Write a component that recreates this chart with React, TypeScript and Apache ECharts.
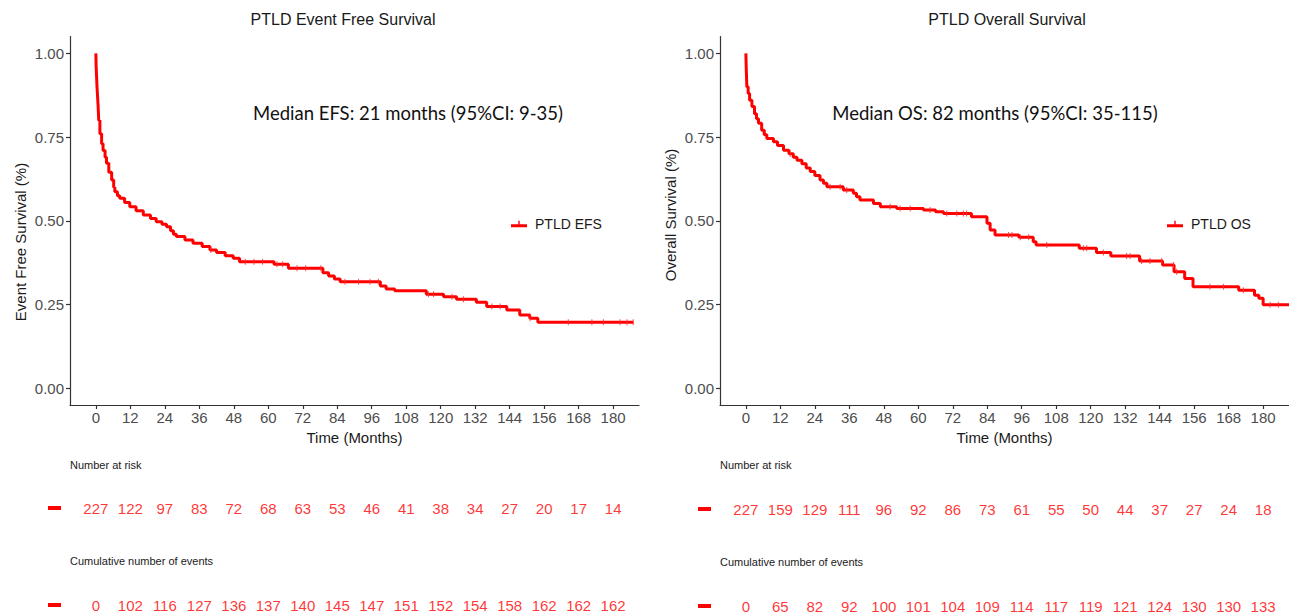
import { useEffect, useRef } from "react";
import * as echarts from "echarts";

// ---------- data ----------
const timeTicks = [0, 12, 24, 36, 48, 60, 72, 84, 96, 108, 120, 132, 144, 156, 168, 180];
const survTicks = [0, 0.25, 0.5, 0.75, 1];

// Kaplan-Meier step points [time (months), survival from this time onward]
const efsCurve: [number, number][] = [
  [0, 1.0], [0.1, 0.96], [0.2, 0.94], [0.4, 0.9], [0.6, 0.87], [0.8, 0.84], [1.0, 0.8],
  [1.4, 0.76], [2.0, 0.73], [2.5, 0.71], [3.2, 0.69], [3.7, 0.672], [4.5, 0.645], [5.5, 0.622],
  [6.2, 0.6], [6.6, 0.587], [7.5, 0.575], [8.3, 0.567], [10, 0.555], [11.8, 0.542], [14, 0.53],
  [16.5, 0.517], [19, 0.507], [21, 0.497], [23, 0.49], [24.6, 0.482], [26, 0.47], [27, 0.46],
  [28, 0.453], [31, 0.443], [33.8, 0.433], [37, 0.423], [39.7, 0.413], [42, 0.405], [45, 0.396],
  [47.8, 0.388], [50, 0.378], [62, 0.37], [67, 0.358], [79, 0.345], [81, 0.335], [83, 0.326],
  [85, 0.318], [99, 0.305], [101, 0.296], [104, 0.291], [115, 0.281], [121, 0.273], [125.5, 0.266],
  [132.4, 0.257], [136, 0.244], [143, 0.234], [147.5, 0.219], [151, 0.209], [153.8, 0.197], [187, 0.197],
];
const osCurve: [number, number][] = [
  [0, 1.0], [0.15, 0.95], [0.35, 0.9], [0.8, 0.88], [1.3, 0.86], [2.1, 0.841], [3, 0.82],
  [3.7, 0.805], [4.4, 0.791], [5.5, 0.77], [6.4, 0.757], [7.3, 0.746], [9.6, 0.736], [11, 0.725],
  [13.1, 0.711], [15, 0.7], [16.5, 0.69], [17.8, 0.681], [19.5, 0.67], [21, 0.658], [22.4, 0.647],
  [24, 0.635], [25.8, 0.622], [27, 0.612], [28.2, 0.602], [33.9, 0.592], [37.4, 0.582], [38.5, 0.572],
  [39.7, 0.562], [44.4, 0.552], [46.8, 0.542], [52.5, 0.537], [61.8, 0.532], [66, 0.527], [68.8, 0.522],
  [78.5, 0.512], [83.9, 0.4925], [85, 0.4725], [86.7, 0.4576], [95, 0.451], [100, 0.4376], [101, 0.428],
  [116, 0.418], [122, 0.405], [127, 0.395], [137, 0.38], [145, 0.368], [149, 0.348], [152.7, 0.328],
  [155.6, 0.303], [171.5, 0.293], [177, 0.278], [178.5, 0.269], [180, 0.249], [189, 0.249],
];
const efsCensorTimes = [40, 52, 55, 58, 63, 65, 70, 73, 78.3, 86.7, 91.4, 95.4, 98.3, 115.7, 117.5, 123.9,
  127.9, 137.8, 140.7, 151.1, 164.4, 172.6, 176.6, 182.4, 184.8, 187];
const osCensorTimes = [15.4, 29.3, 32.8, 35.1, 50.2, 53.7, 57.2, 64.1, 69.9, 73.4, 75.7, 76.8, 91.4, 92.6,
  95.5, 98.4, 104.7, 117.5, 118.6, 124.4, 132.5, 133.7, 137.7, 140.6, 144.7, 148.8, 149.9, 161.5, 166.2,
  173.1, 182.4, 185.3];

const efsAtRisk = [227, 122, 97, 83, 72, 68, 63, 53, 46, 41, 38, 34, 27, 20, 17, 14];
const efsEvents = [0, 102, 116, 127, 136, 137, 140, 145, 147, 151, 152, 154, 158, 162, 162, 162];
const osAtRisk = [227, 159, 129, 111, 96, 92, 86, 73, 61, 55, 50, 44, 37, 27, 24, 18];
const osEvents = [0, 65, 82, 92, 100, 101, 104, 109, 114, 117, 119, 121, 124, 130, 130, 133];

// ---------- helpers ----------
const RED = "#ff0000";
const SANS = "'Liberation Sans', Arial, Helvetica, sans-serif";
const X_MIN = -9;
const X_MAX = 189;

function survAt(curve: [number, number][], t: number): number {
  let v = curve[0][1];
  for (const [ct, cv] of curve) {
    if (ct <= t) v = cv;
    else break;
  }
  return v;
}

export default function App() {
  const ref = useRef<HTMLDivElement>(null);

  useEffect(() => {
    if (!ref.current) return;
    const chart = echarts.init(ref.current, undefined, { renderer: "svg" });

    const panels = [
      { left: 70, curve: efsCurve, censor: efsCensorTimes, name: "PTLD EFS", risk: efsAtRisk, events: efsEvents, riskY: 508, evY: 605 },
      { left: 720, curve: osCurve, censor: osCensorTimes, name: "PTLD OS", risk: osAtRisk, events: osEvents, riskY: 509, evY: 606 },
    ];
    const W = 569;
    const PLOT_TOP = 36.6;
    const PLOT_H = 368.4;

    const grids: any[] = [];
    const xAxes: any[] = [];
    const yAxes: any[] = [];
    const series: any[] = [];

    panels.forEach((p) => {
      // main plot grid
      grids.push({ left: p.left, top: PLOT_TOP, width: W, height: PLOT_H, outerBoundsMode: "none", containLabel: false });
      xAxes.push({
        gridIndex: grids.length - 1,
        type: "value",
        min: X_MIN,
        max: X_MAX,
        name: "Time (Months)",
        nameLocation: "middle",
        nameGap: 24,
        nameTextStyle: { fontSize: 15, color: "#1a1a1a", fontFamily: SANS },
        axisLine: { show: true, onZero: false, lineStyle: { color: "#333", width: 1.2 } },
        axisTick: { show: true, length: 4, customValues: timeTicks, lineStyle: { color: "#333", width: 1.2 } },
        axisLabel: { customValues: timeTicks, fontSize: 15, color: "#4d4d4d", fontFamily: SANS, margin: 5 },
        splitLine: { show: false },
      });
      yAxes.push({
        gridIndex: grids.length - 1,
        type: "value",
        min: -0.05,
        max: 1.05,
        axisLine: { show: true, onZero: false, lineStyle: { color: "#333", width: 1.2 } },
        axisTick: { show: true, length: 4, customValues: survTicks, lineStyle: { color: "#333", width: 1.2 } },
        axisLabel: {
          customValues: survTicks,
          fontSize: 15,
          color: "#4d4d4d",
          fontFamily: SANS,
          margin: 6,
          formatter: (v: number) => v.toFixed(2),
        },
        splitLine: { show: false },
      });
      const axisIdx = xAxes.length - 1;
      series.push({
        name: p.name,
        type: "line",
        xAxisIndex: axisIdx,
        yAxisIndex: axisIdx,
        step: "end",
        showSymbol: false,
        symbol: "none",
        data: p.curve,
        lineStyle: { color: RED, width: 3 },
        itemStyle: { color: RED },
        z: 3,
      });
      series.push({
        name: p.name + " censored",
        type: "scatter",
        xAxisIndex: axisIdx,
        yAxisIndex: axisIdx,
        symbol: "rect",
        symbolSize: [1.1, 6],
        data: p.censor.map((t) => [t, survAt(p.curve, t)]),
        itemStyle: { color: "#ff3030" },
        z: 4,
      });

      // risk tables
      [
        { values: p.risk, y: p.riskY },
        { values: p.events, y: p.evY },
      ].forEach((row) => {
        grids.push({ left: p.left, top: row.y - 10, width: W, height: 20, outerBoundsMode: "none", containLabel: false });
        xAxes.push({ gridIndex: grids.length - 1, type: "value", min: X_MIN, max: X_MAX, show: false });
        yAxes.push({ gridIndex: grids.length - 1, type: "value", min: -1, max: 1, show: false });
        const idx = xAxes.length - 1;
        series.push({
          type: "scatter",
          xAxisIndex: idx,
          yAxisIndex: idx,
          symbolSize: 0.1,
          itemStyle: { color: "rgba(0,0,0,0)" },
          silent: true,
          data: row.values.map((v, k) => [timeTicks[k], 0, v]),
          label: {
            show: true,
            position: "inside",
            formatter: (d: any) => String(d.value[2]),
            color: RED,
            fontSize: 15,
            fontFamily: SANS,
          },
        });
      });
    });

    const legendIcon = "path://M0,4H16V7H0Z M7.3,0.5H8.7V4H7.3Z";
    const legends = [
      { data: ["PTLD EFS"], left: 511, top: 217 },
      { data: ["PTLD OS"], left: 1167, top: 217 },
    ].map((l) => ({
      ...l,
      orient: "horizontal",
      padding: 0,
      icon: legendIcon,
      itemWidth: 16,
      itemHeight: 8,
      textStyle: { fontSize: 14, color: "#1a1a1a", fontFamily: SANS, padding: [0, 0, 0, 3] },
      selectedMode: false,
    }));

    const txt = (text: string, x: number, y: number, opts: any = {}) => ({
      type: "text",
      x,
      y,
      rotation: opts.rotation || 0,
      silent: true,
      style: {
        text,
        fill: opts.fill || "#1a1a1a",
        fontSize: opts.fontSize || 15,
        fontFamily: opts.fontFamily || SANS,
        align: opts.align || "center",
        verticalAlign: "middle",
      },
    });

    const graphic: any[] = [
      txt("PTLD Event Free Survival", 343, 19, { fontSize: 16 }),
      txt("PTLD Overall Survival", 1007, 19, { fontSize: 16 }),
      txt("Event Free Survival (%)", 20, 242, { rotation: Math.PI / 2 }),
      txt("Overall Survival (%)", 670, 215, { rotation: Math.PI / 2 }),
      txt("Median EFS: 21 months (95%CI: 9-35)", 408, 113, { fontSize: 18.5, fill: "#111", fontFamily: "Lato, 'Open Sans', sans-serif" }),
      txt("Median OS: 82 months (95%CI: 35-115)", 995, 113, { fontSize: 18.5, fill: "#111", fontFamily: "Lato, 'Open Sans', sans-serif" }),
      txt("Number at risk", 70, 465, { fontSize: 11, align: "left" }),
      txt("Cumulative number of events", 70, 561, { fontSize: 11, align: "left" }),
      txt("Number at risk", 720, 465, { fontSize: 11, align: "left" }),
      txt("Cumulative number of events", 720, 562, { fontSize: 11, align: "left" }),
      { type: "rect", shape: { x: 48, y: 506, width: 13, height: 4 }, style: { fill: RED }, silent: true },
      { type: "rect", shape: { x: 48, y: 603, width: 13, height: 4 }, style: { fill: RED }, silent: true },
      { type: "rect", shape: { x: 698, y: 507, width: 13, height: 4 }, style: { fill: RED }, silent: true },
      { type: "rect", shape: { x: 698, y: 604, width: 13, height: 4 }, style: { fill: RED }, silent: true },
    ];

    chart.setOption({
      animation: false,
      backgroundColor: "#ffffff",
      grid: grids,
      xAxis: xAxes,
      yAxis: yAxes,
      series,
      legend: legends,
      graphic,
    });

    return () => chart.dispose();
  }, []);

  return (
    <div
      ref={ref}
      style={{ position: "absolute", left: 0, top: 0, width: 1289, height: 614, background: "#fff" }}
    />
  );
}
